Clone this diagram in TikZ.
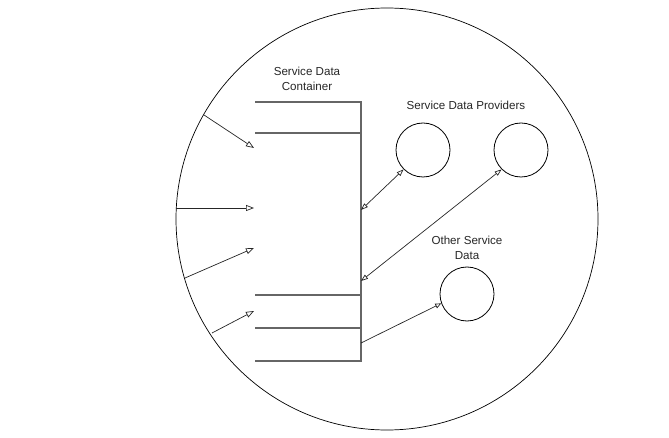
\documentclass[tikz,border=0pt]{standalone}
\usepackage{fontspec}
\setmainfont{Liberation Sans}
\usetikzlibrary{arrows.meta}
\begin{document}
\begin{tikzpicture}[x=1pt,y=-1pt,
  lbl/.style={font=\fontsize{11.6}{15}\selectfont, align=center, text=black!85},
  conn/.style={draw=black!85, line width=0.7pt},
  bar/.style={draw=black!60, line width=1.4pt},
  tip/.style={-{Triangle[open,length=8pt,width=6pt]}},
  small/.style={circle, draw=black, line width=0.8pt, minimum size=54pt, inner sep=0pt}]
\useasboundingbox (0,0) rectangle (669,438);
\node[circle, draw=black, line width=0.7pt, minimum size=422pt, inner sep=0pt] (big) at (387,219) {};
% container
\coordinate (ct) at (361,102);
\coordinate (cb) at (361,361);
\draw[bar] (255,102) -- (ct) -- (cb) -- (255,361);
\draw[bar] (255,133) -- (361,133);
\draw[bar] (255,295) -- (361,295);
\draw[bar] (255,328) -- (361,328);
\node[lbl] (clbl) at (307,79) {Service Data\\Container};
% incoming arrows
\coordinate (a1s) at (204,115); \coordinate (a1e) at (254,148);
\coordinate (a2s) at (176,208); \coordinate (a2e) at (254,208);
\coordinate (a3s) at (185,278); \coordinate (a3e) at (254,248);
\coordinate (a4s) at (212,333); \coordinate (a4e) at (254,311);
\draw[conn,tip] (a1s) -- (a1e);
\draw[conn,tip] (a2s) -- (a2e);
\draw[conn,tip] (a3s) -- (a3e);
\draw[conn,tip] (a4s) -- (a4e);
% providers
\node[small] (p1) at (423,150) {};
\node[small] (p2) at (521,150) {};
\node[small] (o1) at (467,294) {};
\node[lbl] (plbl) at (466,105) {Service Data Providers};
\node[lbl] (olbl) at (467,248) {Other Service\\Data};
\coordinate (c1) at (361,210);
\coordinate (c2) at (361,281);
\coordinate (c3) at (361,343);
\draw[conn,{Triangle[open,length=7pt,width=5pt]}-{Triangle[open,length=7pt,width=5pt]}] (c1) -- (p1.225);
\draw[conn,{Triangle[open,length=7pt,width=5pt]}-{Triangle[open,length=7pt,width=5pt]}] (c2) -- (p2.225);
\draw[conn,-{Triangle[open,length=6pt,width=5pt]}] (c3) -- (o1.200);
\end{tikzpicture}
\end{document}
